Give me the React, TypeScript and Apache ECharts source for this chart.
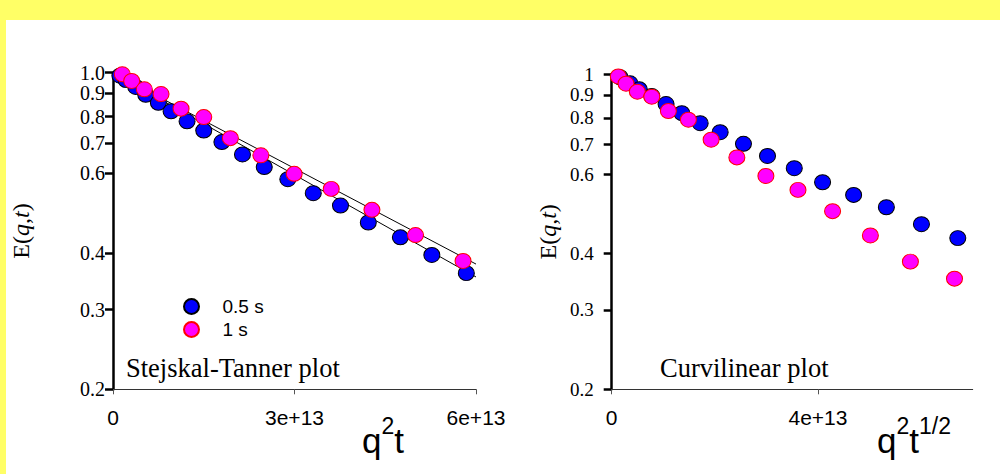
import React, { useEffect, useRef } from 'react';
import * as echarts from 'echarts';

// values in units of 1e13 for x
const leftBlueX = [0.114, 0.215, 0.376, 0.541, 0.75, 0.96, 1.224, 1.5, 1.8, 2.14, 2.5, 2.89, 3.31, 3.76, 4.22, 4.75, 5.27, 5.84];
const leftBlueE = [0.985, 0.963, 0.93, 0.894, 0.858, 0.822, 0.781, 0.745, 0.703, 0.66, 0.619, 0.582, 0.542, 0.509, 0.467, 0.433, 0.396, 0.361];
const leftPinkX = [0.154, 0.309, 0.518, 0.794, 1.125, 1.5, 1.94, 2.444, 2.995, 3.607, 4.28, 5.0, 5.786];
const leftPinkE = [0.992, 0.959, 0.919, 0.897, 0.833, 0.798, 0.717, 0.657, 0.598, 0.554, 0.498, 0.438, 0.384];
const rightBlueX = [0.161, 0.355, 0.536, 0.777, 1.054, 1.359, 1.715, 2.103, 2.555, 3.021, 3.54, 4.089, 4.691, 5.326, 6.006, 6.711];
const rightBlueE = [0.985, 0.955, 0.926, 0.895, 0.859, 0.82, 0.779, 0.744, 0.701, 0.659, 0.619, 0.576, 0.54, 0.507, 0.465, 0.433];
const rightPinkX = [0.128, 0.278, 0.497, 0.777, 1.099, 1.487, 1.928, 2.427, 2.99, 3.612, 4.283, 5.016, 5.792, 6.647];
const rightPinkE = [0.989, 0.953, 0.915, 0.892, 0.829, 0.793, 0.716, 0.654, 0.595, 0.554, 0.497, 0.439, 0.384, 0.352];
const fitX = [0, 6];
const fitBlueE = [1, 0.354];
const fitPinkE = [1, 0.378];

const yTicks = [0.2, 0.3, 0.4, 0.6, 0.7, 0.8, 0.9, 1.0];
const leftYLabelsMain = [0.2, 0.3, 0.4, 0.6, 0.7, 0.8, 1.0];
const leftYLabelsAux = [0.9];
const leftXTicks = [0, 3e13, 6e13];
const rightXTicks = [0, 4e13];
const seriesNames = ['0.5 s', '1 s'];
const panelTitles = ['Stejskal-Tanner plot', 'Curvilinear plot'];

const UNIT = 1e13;
const SERIF = '"Liberation Serif", "Times New Roman", serif';
const SANS = '"Liberation Sans", Arial, sans-serif';
const DOT = 'path://M0,5a5,5 0 1,0 10,0a5,5 0 1,0 -10,0Z';
const LEFT_LABEL_SIZE = 20;

const pts = (xs: number[], ys: number[]) => xs.map((x, i) => [x * UNIT, ys[i]]);
const xFmt = (v: number) => (v === 0 ? '0' : `${Math.round(v / UNIT)}e+13`);

export default function App() {
  const ref = useRef<HTMLDivElement>(null);
  useEffect(() => {
    if (!ref.current) return;
    const chart = echarts.init(ref.current, undefined, { renderer: 'svg' });

    const yAxisBase = (
      gridIndex: number,
      nameGap: number,
      margin: number,
      labelSize: number,
      labels: number[],
      fmt: (v: number) => string
    ) => ({
      type: 'log',
      logBase: 10,
      gridIndex,
      position: 'left',
      min: 0.2,
      max: 1,
      name: 'E({i|q},{i|t})',
      nameLocation: 'middle',
      nameRotate: 90,
      nameGap,
      nameTextStyle: {
        fontFamily: SERIF,
        fontSize: 24,
        color: '#000',
        rich: { i: { fontFamily: SERIF, fontSize: 24, fontStyle: 'italic', color: '#000' } },
      },
      axisLine: { show: true, lineStyle: { color: '#000', width: 2.5 } },
      axisTick: { show: true, customValues: yTicks, length: 8, lineStyle: { color: '#000', width: 2.5 } },
      axisLabel: {
        customValues: labels,
        margin,
        showMinLabel: true,
        showMaxLabel: true,
        fontFamily: SERIF,
        fontSize: labelSize,
        color: '#000',
        formatter: (v: number) => fmt(v),
      },
      splitLine: { show: false },
      minorTick: { show: false },
    });

    const auxYAxis = {
      type: 'log',
      logBase: 10,
      gridIndex: 0,
      position: 'left',
      offset: 0,
      min: 0.2,
      max: 1,
      axisLine: { show: false },
      axisTick: { show: false },
      axisLabel: {
        customValues: leftYLabelsAux,
        margin: 8,
        fontFamily: SERIF,
        fontSize: LEFT_LABEL_SIZE,
        color: '#000',
        formatter: (v: number) => v.toFixed(1),
      },
      splitLine: { show: false },
    };

    const xAxisBase = (gridIndex: number, max: number, interval: number, ticks: number[]) => ({
      type: 'value',
      gridIndex,
      min: 0,
      max,
      interval,
      axisLine: { show: true, onZero: false, lineStyle: { color: '#333', width: 1 } },
      axisTick: { show: true, customValues: ticks, length: 5, lineStyle: { color: '#555', width: 1 } },
      axisLabel: {
        customValues: ticks,
        showMinLabel: true,
        showMaxLabel: true,
        margin: 18,
        fontFamily: SANS,
        fontSize: 21,
        color: '#000',
        formatter: xFmt,
      },
      splitLine: { show: false },
    });

    const scatter = (name: string, xi: number, data: number[][], fill: string, border: string) => ({
      type: 'scatter',
      name,
      xAxisIndex: xi,
      yAxisIndex: xi,
      data,
      symbol: DOT,
      symbolSize: [16, 15],
      itemStyle: { color: fill, borderColor: border, borderWidth: 1, opacity: 1 },
      z: name === '1 s' ? 4 : 3,
    });

    const fitLine = (data: number[][]) => ({
      type: 'line',
      xAxisIndex: 0,
      yAxisIndex: 0,
      data,
      symbol: 'none',
      lineStyle: { color: '#000', width: 1 },
      z: 2,
      silent: true,
    });

    const supName = (parts: string) => ({
      fontFamily: SANS,
      fontSize: 34,
      fill: '#000',
      text: parts,
      rich: {
        b: { fontFamily: SANS, fontSize: 35, lineHeight: 44, verticalAlign: 'bottom', fill: '#000' },
        s: { fontFamily: SANS, fontSize: 23, lineHeight: 24, verticalAlign: 'top', fill: '#000' },
      },
    });

    chart.setOption({
      animation: false,
      backgroundColor: '#fff',
      grid: [
        { left: 113, top: 72.7, width: 363, height: 316.6 },
        { left: 611.7, top: 74.3, width: 361, height: 315 },
      ],
      xAxis: [xAxisBase(0, 6e13, 3e13, leftXTicks), xAxisBase(1, 7e13, 4e13, rightXTicks)],
      yAxis: [
        yAxisBase(0, 80, 8, LEFT_LABEL_SIZE, leftYLabelsMain, (v) => v.toFixed(1)),
        yAxisBase(1, 52, 18, 19, yTicks, (v) => (Math.abs(v - 1) < 1e-9 ? '1' : v.toFixed(1))),
        auxYAxis,
      ],
      legend: {
        data: seriesNames,
        orient: 'vertical',
        left: 178,
        top: 292,
        itemWidth: 16,
        itemHeight: 15,
        itemGap: 4,
        selectedMode: false,
        textStyle: { fontFamily: SANS, fontSize: 19, color: '#000', padding: [0, 0, 0, 18] },
      },
      graphic: [
        { type: 'rect', shape: { x: 0, y: 0, width: 1000, height: 20 }, style: { fill: '#ffff66' }, silent: true },
        { type: 'rect', shape: { x: 0, y: 0, width: 6, height: 474 }, style: { fill: '#ffff66' }, silent: true },
        {
          type: 'text', x: 126, y: 368,
          style: { text: panelTitles[0], fontFamily: SERIF, fontSize: 26.5, fill: '#000', verticalAlign: 'middle' },
        },
        {
          type: 'text', x: 660, y: 368,
          style: { text: panelTitles[1], fontFamily: SERIF, fontSize: 26.5, fill: '#000', verticalAlign: 'middle' },
        },
        {
          type: 'text', x: 362, y: 436,
          style: { ...supName('{b|q}{s|2}{b|t}'), verticalAlign: 'middle' },
        },
        {
          type: 'text', x: 877, y: 436,
          style: { ...supName('{b|q}{s|2}{b|t}{s|1/2}'), verticalAlign: 'middle' },
        },
      ],
      series: [
        fitLine(pts(fitX, fitBlueE)),
        fitLine(pts(fitX, fitPinkE)),
        scatter(seriesNames[0], 0, pts(leftBlueX, leftBlueE), '#0000ff', '#000'),
        scatter(seriesNames[1], 0, pts(leftPinkX, leftPinkE), '#ff00ff', '#ff0000'),
        scatter(seriesNames[0], 1, pts(rightBlueX, rightBlueE), '#0000ff', '#000'),
        scatter(seriesNames[1], 1, pts(rightPinkX, rightPinkE), '#ff00ff', '#ff0000'),
      ],
    });
    return () => chart.dispose();
  }, []);
  return <div ref={ref} style={{ position: 'absolute', left: 0, top: 0, width: 1000, height: 474 }} />;
}
